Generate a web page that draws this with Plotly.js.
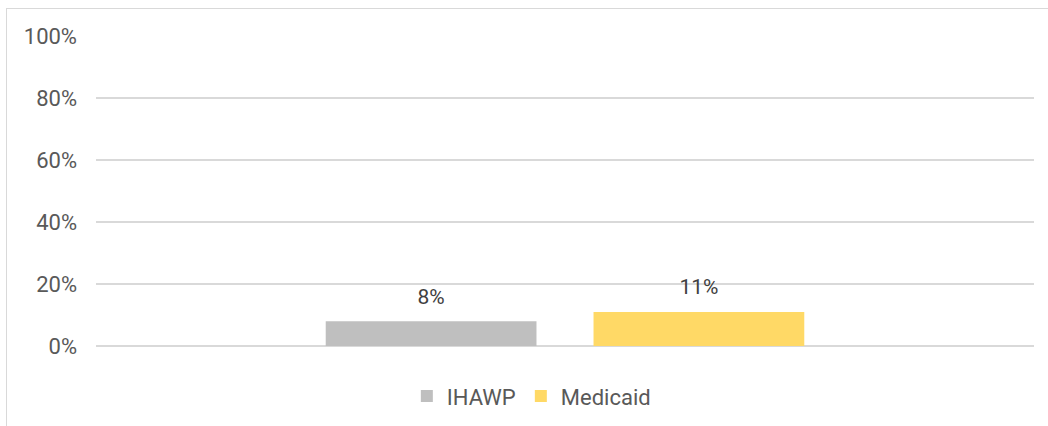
<!DOCTYPE html>
<html>
<head>
<meta charset="utf-8">
<script src="https://cdn.plot.ly/plotly-3.0.1.min.js"></script>
<style>
html,body{margin:0;padding:0;background:#fff;}
#wrap{position:relative;width:1048px;height:426px;overflow:hidden;}
#chart{position:absolute;left:0;top:0;width:1048px;height:426px;}
#frame{position:absolute;left:6px;top:8px;width:1100px;height:500px;border-top:1.5px solid #d9d9d9;border-left:1.5px solid #d9d9d9;pointer-events:none;}
</style>
</head>
<body>
<div id="wrap"><div id="chart"></div><div id="frame"></div></div>
<script>
const categories = [''];
const seriesNames = ['IHAWP', 'Medicaid'];
const ihawp = [0.08];
const medicaid = [0.11];
const colors = ['#bfbfbf', '#ffd966'];
const yTickVals = [0, 0.2, 0.4, 0.6, 0.8, 1.0];

const values = [ihawp, medicaid];
const data = [];
seriesNames.forEach((name, i) => {
  data.push({
    type: 'bar', name: name, x: categories, y: values[i],
    marker: {color: colors[i]}, offsetgroup: 'g' + i,
    hoverinfo: 'skip'
  });
});
seriesNames.forEach((name, i) => {
  data.push({
    type: 'scatter', mode: 'markers+text', x: categories, y: values[i],
    offsetgroup: 'g' + i, showlegend: false, hoverinfo: 'skip',
    marker: {size: 18, opacity: 0, color: colors[i]},
    text: values[i].map(v => Math.round(v * 100) + '%'),
    textposition: 'top center',
    textfont: {family: 'Roboto, sans-serif', size: 21, color: '#404040'},
    cliponaxis: false
  });
});

const layout = {
  width: 1048, height: 426,
  margin: {l: 96, r: 14, t: 35, b: 80},
  paper_bgcolor: 'rgba(0,0,0,0)', plot_bgcolor: 'rgba(0,0,0,0)',
  font: {family: 'Roboto, sans-serif', color: '#595959', size: 20},
  barmode: 'group', bargap: 0.429, bargroupgap: 0.213,
  scattermode: 'group', scattergap: 0.429,
  xaxis: {showticklabels: false, showgrid: false, zeroline: false, showline: false, fixedrange: true},
  yaxis: {
    range: [0, 1.003], tickvals: yTickVals, tickformat: '.0%',
    showgrid: true, gridcolor: '#d9d9d9', gridwidth: 1.5,
    zeroline: true, zerolinecolor: '#d9d9d9', zerolinewidth: 1.5,
    showline: false, ticks: '', ticklabelstandoff: 18,
    tickfont: {family: 'Roboto, sans-serif', size: 22, color: '#595959'}
  },
  showlegend: true,
  legend: {
    orientation: 'h', x: 0.507, xref: 'container', xanchor: 'center',
    y: 0.07, yref: 'container', yanchor: 'middle',
    font: {family: 'Roboto, sans-serif', size: 22, color: '#595959'},
    itemwidth: 30, tracegroupgap: 0
  }
};
Plotly.newPlot('chart', data, layout, {staticPlot: true});
</script>
</body>
</html>
